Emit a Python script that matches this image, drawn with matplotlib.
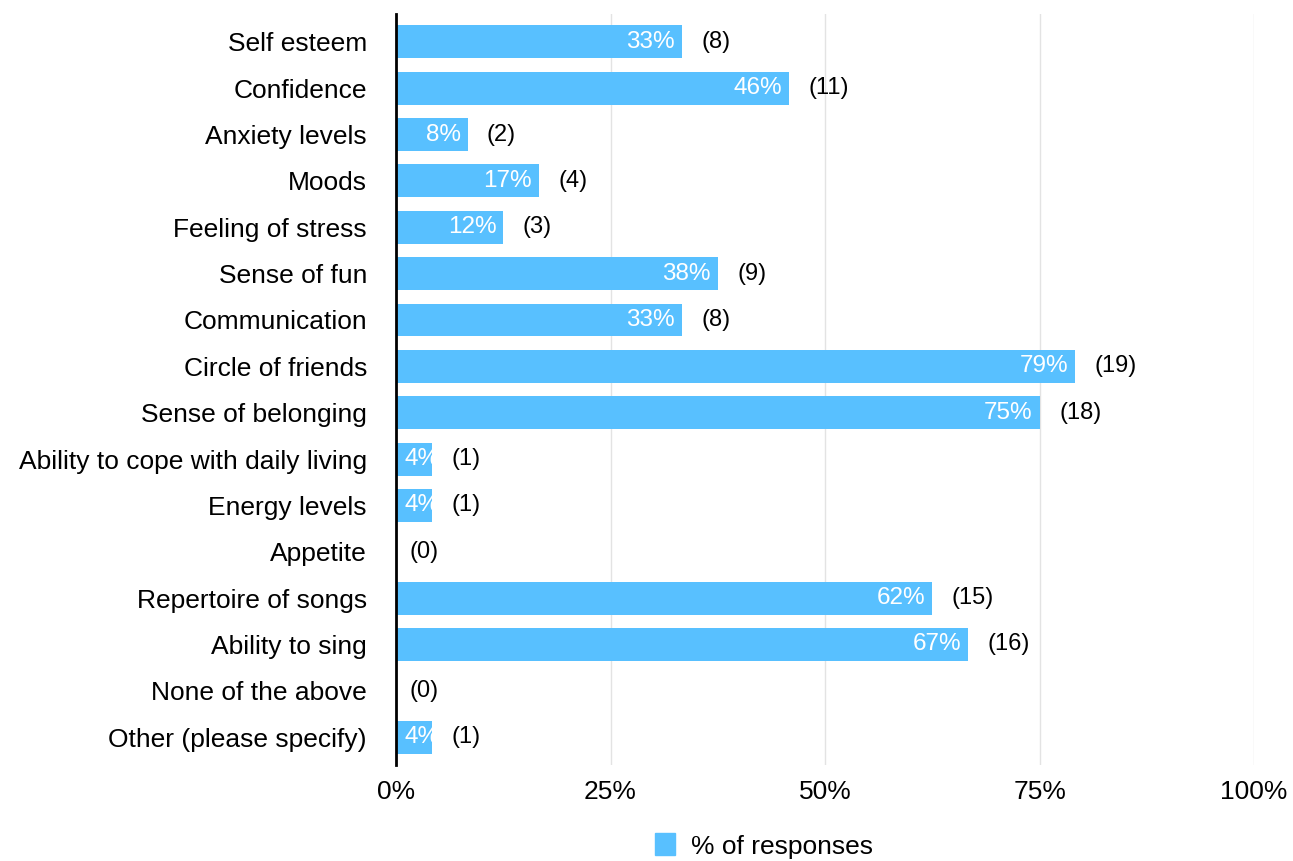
import matplotlib.pyplot as plt
from matplotlib.patches import Patch

## data

categories = ["Self esteem", "Confidence", "Anxiety levels", "Moods", "Feeling of stress",
              "Sense of fun", "Communication", "Circle of friends", "Sense of belonging",
              "Ability to cope with daily living", "Energy levels", "Appetite",
              "Repertoire of songs", "Ability to sing", "None of the above",
              "Other (please specify)"]
counts = [8, 11, 2, 4, 3, 9, 8, 19, 18, 1, 1, 0, 15, 16, 0, 1]
total = 24
x_ticks = [0, 0.25, 0.5, 0.75, 1.0]
x_tick_labels = ["0%", "25%", "50%", "75%", "100%"]

shares = [c / total for c in counts]
ypos = list(range(len(categories)))

## plotting

plt.rcParams['font.family'] = ['Liberation Sans', 'DejaVu Sans']
blue = '#58c0ff'

fig = plt.figure(figsize=(12.93, 8.61), dpi=100)
ax = fig.add_axes([0.3063, 0.1115, 0.6636, 0.8722])

bars = ax.barh(ypos, shares, height=0.71, color=blue, zorder=2)

for bar, share, n in zip(bars, shares, counts):
    y = bar.get_y() + bar.get_height() / 2
    if n > 0:
        # narrow bars: label starts at the left and is clipped by the bar
        if share < 0.06:
            t = ax.annotate("{:.0f}%".format(share * 100), (0, y), xytext=(6, 0),
                            textcoords='offset points', ha='left', va='center',
                            color='white', fontsize=17.5, zorder=3)
        else:
            t = ax.annotate("{:.0f}%".format(share * 100), (share, y), xytext=(-5, 0),
                            textcoords='offset points', ha='right', va='center',
                            color='white', fontsize=17.5, zorder=3)
        t.set_clip_path(bar)
        off = 14
    else:
        off = 10
    ax.annotate("({})".format(n), (share, y), xytext=(off, 0),
                textcoords='offset points', ha='left', va='center',
                color='black', fontsize=17, zorder=3)

ax.set_ylim(len(categories) - 0.4, -0.6)
ax.set_xlim(0, 1.0)
ax.set_yticks(ypos)
ax.set_yticklabels(categories, fontsize=19)
ax.set_xticks(x_ticks)
ax.set_xticklabels(x_tick_labels, fontsize=19)
ax.tick_params(axis='y', length=0, pad=21)
ax.tick_params(axis='x', length=0, pad=11)

ax.grid(axis='x', color='#e3e3e3', linewidth=1, zorder=0)
for side in ['top', 'right', 'bottom']:
    ax.spines[side].set_visible(False)
ax.spines['left'].set_linewidth(2)
ax.spines['left'].set_color('black')
ax.spines['left'].set_zorder(4)

fig.legend(handles=[Patch(color=blue, label='% of responses')],
           loc='upper left', bbox_to_anchor=(0.5066, 0.032), frameon=False,
           fontsize=19, handlelength=0.75, handleheight=0.9, handletextpad=0.6,
           borderaxespad=0, borderpad=0)

plt.savefig("out.png", dpi=100)
